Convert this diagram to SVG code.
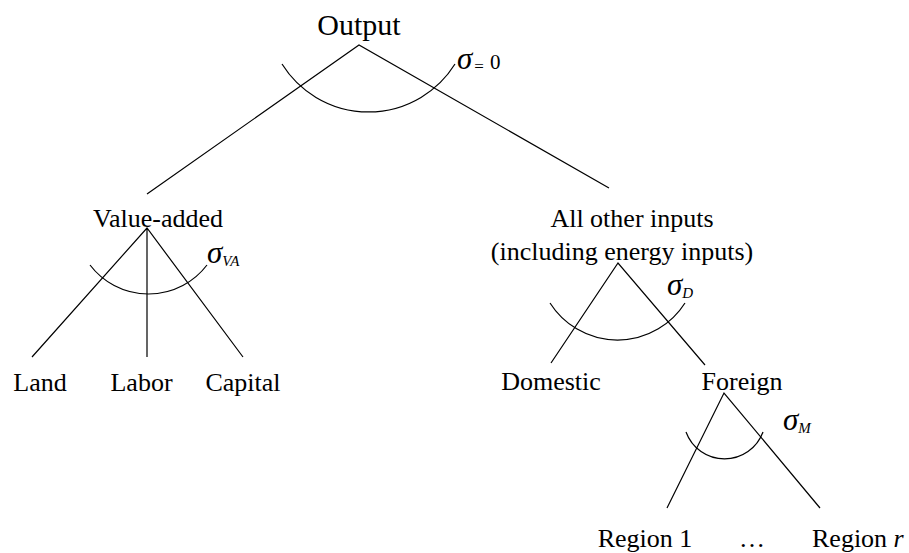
<svg xmlns="http://www.w3.org/2000/svg" width="909" height="553" viewBox="0 0 909 553">
<style>
.t{font-family:"Liberation Serif","Times New Roman",serif;font-size:26px;fill:#000;text-anchor:middle}
.s{font-family:"Liberation Serif","Times New Roman",serif;font-style:italic;font-size:31px;fill:#000}
.sub{font-size:15px;font-style:italic}
.ln{stroke:#000;stroke-width:1.2;fill:none}
</style>
<rect width="909" height="553" fill="#fff"/>
<g id="connectors">
<path class="ln" d="M147,194 L359,45 L609,188"/>
<path class="ln" d="M282,64 A102,102 0 0 0 455,64"/>
<path class="ln" d="M32,357 L147,228 L243,357 M147,228 L147,357"/>
<path class="ln" d="M90,265 A73.5,73.5 0 0 0 207,265"/>
<path class="ln" d="M551,363 L618,263 L705,365"/>
<path class="ln" d="M550,303 A80,80 0 0 0 685,303"/>
<path class="ln" d="M667,508 L724,393 L820,508"/>
<path class="ln" d="M686,432 A41,41 0 0 0 763,432"/>
</g>
<g id="output"><text class="t" x="359" y="35" style="font-size:30px">Output</text>
<text class="s" x="457" y="69">σ<tspan style="font-style:normal;font-size:17px" dx="2" dy="3">=</tspan><tspan style="font-style:normal;font-size:21px" dx="6" dy="-3">0</tspan></text></g>
<g id="value-added"><text class="t" x="158" y="227">Value-added</text>
<text class="s" x="207" y="263">σ<tspan class="sub" dy="3">VA</tspan></text></g>
<g id="other-inputs"><text class="t" x="632" y="227">All other inputs</text>
<text class="t" x="622" y="260">(including energy inputs)</text>
<text class="s" x="667" y="295">σ<tspan class="sub" dy="3">D</tspan></text></g>
<g id="land"><text class="t" x="40" y="391">Land</text></g>
<g id="labor"><text class="t" x="141.5" y="391">Labor</text></g>
<g id="capital"><text class="t" x="243" y="391">Capital</text></g>
<g id="domestic"><text class="t" x="551" y="390">Domestic</text></g>
<g id="foreign"><text class="t" x="742" y="390">Foreign</text>
<text class="s" x="783" y="430">σ<tspan class="sub" dy="3">M</tspan></text></g>
<g id="region1"><text class="t" x="645" y="547">Region 1</text></g>
<g id="dots"><text class="t" x="752" y="547">…</text></g>
<g id="regionr"><text class="t" x="812" y="547" style="text-anchor:start">Region <tspan style="font-style:italic">r</tspan></text></g>
</svg>
